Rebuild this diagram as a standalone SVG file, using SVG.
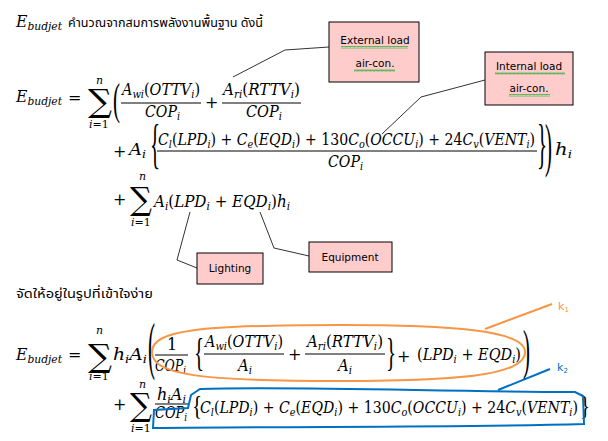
<svg xmlns="http://www.w3.org/2000/svg" width="608" height="441" viewBox="0 0 608 441">
<style>
.m{font-family:"DejaVu Serif","Liberation Serif",serif;font-style:italic;font-size:16px;fill:#000}
.u{font-style:normal}
.s{font-size:11px}
.big{font-family:"Liberation Serif","DejaVu Serif",serif;font-size:21px;font-style:normal;fill:#000}
.sig{font-family:"DejaVu Serif","Liberation Serif",serif;font-size:32px;font-style:normal;fill:#000}
.lim{font-family:"DejaVu Serif","Liberation Serif",serif;font-size:11px;font-style:italic;fill:#000}
.lab{font-family:"DejaVu Sans","Liberation Sans",sans-serif;font-size:10.5px;text-anchor:middle;fill:#000}
.th{font-family:"Noto Sans Thai","Tahoma","DejaVu Sans","Noto Sans",sans-serif;font-size:13px;fill:#000}
.bar{stroke:#000;stroke-width:1}
.box{fill:#FFCCCC;stroke:#000;stroke-width:1}
.con{fill:none;stroke:#333;stroke-width:1}
.sq{fill:url(#squig)}
</style>
<defs>
<pattern id="squig" width="4" height="3" patternUnits="userSpaceOnUse">
<path d="M0,2.5 L1,0.5 L2,2.5 L3,0.5 L4,2.5" fill="none" stroke="#3CB043" stroke-width="0.8"/>
</pattern>
</defs>
<rect width="608" height="441" fill="#fff"/>

<!-- header -->
<text class="m" x="16" y="27" textLength="46" lengthAdjust="spacingAndGlyphs">E<tspan class="s" dy="3">budjet</tspan></text>
<text class="th" x="68" y="27" textLength="195" lengthAdjust="spacingAndGlyphs">คำนวณจากสมการพลังงานพื้นฐาน ดังนี้</text>

<!-- Line A -->
<g id="formula1">
<text class="m" x="16" y="102" textLength="46" lengthAdjust="spacingAndGlyphs">E<tspan class="s" dy="3">budjet</tspan></text>
<text class="m u" x="68" y="103">=</text>
<text class="sig" x="88" y="112" textLength="24" lengthAdjust="spacingAndGlyphs">∑</text>
<text class="lim" x="96" y="84">n</text>
<text class="lim" x="89" y="128">i<tspan class="u">=1</tspan></text>
<text class="big" transform="translate(113,114) scale(1,2.1)">(</text>
<text class="m" x="122" y="95" textLength="78" lengthAdjust="spacingAndGlyphs">A<tspan class="s" dy="3">wi</tspan><tspan class="u" dy="-3">(</tspan>OTTV<tspan class="s" dy="3">i</tspan><tspan class="u" dy="-3">)</tspan></text>
<line class="bar" x1="121" y1="103" x2="201" y2="103"/>
<text class="m" x="145" y="117" textLength="35" lengthAdjust="spacingAndGlyphs">COP<tspan class="s" dy="3">i</tspan></text>
<text class="m u" x="205" y="108">+</text>
<text class="m" x="223" y="95" textLength="77" lengthAdjust="spacingAndGlyphs">A<tspan class="s" dy="3">ri</tspan><tspan class="u" dy="-3">(</tspan>RTTV<tspan class="s" dy="3">i</tspan><tspan class="u" dy="-3">)</tspan></text>
<line class="bar" x1="222" y1="103" x2="301" y2="103"/>
<text class="m" x="246" y="117" textLength="36" lengthAdjust="spacingAndGlyphs">COP<tspan class="s" dy="3">i</tspan></text>

<!-- Line B -->
<text class="m u" x="113" y="157">+</text>
<text class="m" x="129" y="155" textLength="17" lengthAdjust="spacingAndGlyphs">A<tspan class="s" dy="3">i</tspan></text>
<text class="big" transform="translate(150,162) scale(1,2.6)">{</text>
<text class="m" x="158" y="145" textLength="377" lengthAdjust="spacingAndGlyphs">C<tspan class="s" dy="3">l</tspan><tspan class="u" dy="-3">(</tspan>LPD<tspan class="s" dy="3">i</tspan><tspan class="u" dy="-3">) +  </tspan>C<tspan class="s" dy="3">e</tspan><tspan class="u" dy="-3">(</tspan>EQD<tspan class="s" dy="3">i</tspan><tspan class="u" dy="-3">) + 130</tspan>C<tspan class="s" dy="3">o</tspan><tspan class="u" dy="-3">(</tspan>OCCU<tspan class="s" dy="3">i</tspan><tspan class="u" dy="-3">) + 24</tspan>C<tspan class="s" dy="3">v</tspan><tspan class="u" dy="-3">(</tspan>VENT<tspan class="s" dy="3">i</tspan><tspan class="u" dy="-3">)</tspan></text>
<line class="bar" x1="157" y1="151" x2="537" y2="151"/>
<text class="m" x="328" y="167" textLength="35" lengthAdjust="spacingAndGlyphs">COP<tspan class="s" dy="3">i</tspan></text>
<text class="big" transform="translate(537,162) scale(1,2.6)">}</text>
<text class="big" transform="translate(545,165) scale(1,2.8)">)</text>
<text class="m" x="555" y="155" textLength="17" lengthAdjust="spacingAndGlyphs">h<tspan class="s" dy="3">i</tspan></text>

<!-- Line C -->
<text class="m u" x="113" y="205">+</text>
<text class="sig" x="130" y="210" textLength="22" lengthAdjust="spacingAndGlyphs">∑</text>
<text class="lim" x="139" y="180">n</text>
<text class="lim" x="131" y="226">i<tspan class="u">=1</tspan></text>
<text class="m" x="154" y="207" textLength="136" lengthAdjust="spacingAndGlyphs">A<tspan class="s" dy="3">i</tspan><tspan class="u" dy="-3">(</tspan>LPD<tspan class="s" dy="3">i</tspan><tspan class="u" dy="-3"> +  </tspan>EQD<tspan class="s" dy="3">i</tspan><tspan class="u" dy="-3">)</tspan>h<tspan class="s" dy="3">i</tspan></text>
</g>

<!-- connectors -->
<g id="connectors">
<polyline class="con" points="233,77 285,50 329,47"/>
<polyline class="con" points="485,80 421,97 382,134"/>
<polyline class="con" points="190,212 177,260 197,268"/>
<polyline class="con" points="260,212 274,248 309,256"/>
<path d="M485,329 L552,304" fill="none" stroke="#F79646" stroke-width="2"/>
<path d="M498,390 L550,369" fill="none" stroke="#0070C0" stroke-width="2"/>
</g>

<!-- callout boxes -->
<g id="external">
<rect class="box" x="329" y="22" width="90" height="60"/>
<text class="lab" x="375" y="44">External load</text>
<text class="lab" x="375" y="67">air-con.</text>
<rect class="sq" x="341" y="46" width="67" height="3"/>
<rect class="sq" x="354" y="69" width="41" height="3"/>
</g>
<g id="internal">
<rect class="box" x="485" y="52" width="88" height="53"/>
<text class="lab" x="529" y="70">Internal load</text>
<text class="lab" x="529" y="92">air-con.</text>
<rect class="sq" x="495" y="72" width="70" height="3"/>
<rect class="sq" x="509" y="94" width="41" height="3"/>
</g>
<g id="lighting">
<rect class="box" x="197" y="253" width="66" height="31"/>
<text class="lab" x="230" y="272">Lighting</text>
</g>
<g id="equipment">
<rect class="box" x="309" y="242" width="83" height="30"/>
<text class="lab" x="350" y="261">Equipment</text>
</g>

<text class="th" x="16" y="298" textLength="137" lengthAdjust="spacingAndGlyphs">จัดให้อยู่ในรูปที่เข้าใจง่าย</text>

<!-- Line D -->
<g id="formula2">
<text class="m" x="16" y="360" textLength="46" lengthAdjust="spacingAndGlyphs">E<tspan class="s" dy="3">budjet</tspan></text>
<text class="m u" x="68" y="360">=</text>
<text class="sig" x="88" y="367" textLength="24" lengthAdjust="spacingAndGlyphs">∑</text>
<text class="lim" x="96" y="334">n</text>
<text class="lim" x="89" y="380">i<tspan class="u">=1</tspan></text>
<text class="m" x="113" y="360" textLength="34" lengthAdjust="spacingAndGlyphs">h<tspan class="s" dy="3">i</tspan><tspan dy="-3">A</tspan><tspan class="s" dy="3">i</tspan></text>
<text class="big" transform="translate(148,367) scale(1,3.0)">(</text>
<text class="m u" x="167" y="350">1</text>
<line class="bar" x1="155" y1="355" x2="188" y2="355"/>
<text class="m" x="155" y="371" textLength="31" lengthAdjust="spacingAndGlyphs">COP<tspan class="s" dy="3">i</tspan></text>
<text class="big" transform="translate(194,366) scale(1,1.9)">{</text>
<text class="m" x="205" y="347" textLength="78" lengthAdjust="spacingAndGlyphs">A<tspan class="s" dy="3">wi</tspan><tspan class="u" dy="-3">(</tspan>OTTV<tspan class="s" dy="3">i</tspan><tspan class="u" dy="-3">)</tspan></text>
<line class="bar" x1="204" y1="354" x2="284" y2="354"/>
<text class="m" x="238" y="371" textLength="14" lengthAdjust="spacingAndGlyphs">A<tspan class="s" dy="3">i</tspan></text>
<text class="m u" x="288" y="360">+</text>
<text class="m" x="307" y="347" textLength="76" lengthAdjust="spacingAndGlyphs">A<tspan class="s" dy="3">ri</tspan><tspan class="u" dy="-3">(</tspan>RTTV<tspan class="s" dy="3">i</tspan><tspan class="u" dy="-3">)</tspan></text>
<line class="bar" x1="305" y1="354" x2="385" y2="354"/>
<text class="m" x="338" y="371" textLength="14" lengthAdjust="spacingAndGlyphs">A<tspan class="s" dy="3">i</tspan></text>
<text class="big" transform="translate(386,366) scale(1,1.9)">}</text>
<text class="m u" x="397" y="362">+</text>
<text class="m" x="417" y="360" textLength="104" lengthAdjust="spacingAndGlyphs"><tspan class="u">(</tspan>LPD<tspan class="s" dy="3">i</tspan><tspan class="u" dy="-3"> +  </tspan>EQD<tspan class="s" dy="3">i</tspan><tspan class="u" dy="-3">)</tspan></text>
<text class="big" transform="translate(523,368) scale(1,2.6)">)</text>

<!-- Line E -->
<text class="m u" x="113" y="410">+</text>
<text class="sig" x="130" y="416" textLength="22" lengthAdjust="spacingAndGlyphs">∑</text>
<text class="lim" x="139" y="388">n</text>
<text class="lim" x="131" y="432">i<tspan class="u">=1</tspan></text>
<text class="m" x="157" y="400" textLength="29" lengthAdjust="spacingAndGlyphs">h<tspan class="s" dy="3">i</tspan><tspan dy="-3">A</tspan><tspan class="s" dy="3">i</tspan></text>
<line class="bar" x1="155" y1="404" x2="188" y2="404"/>
<text class="m" x="155" y="418" textLength="32" lengthAdjust="spacingAndGlyphs">COP<tspan class="s" dy="3">i</tspan></text>
<text class="big" transform="translate(192,415) scale(1,1.3)">{</text>
<text class="m" x="200" y="413" textLength="378" lengthAdjust="spacingAndGlyphs">C<tspan class="s" dy="3">l</tspan><tspan class="u" dy="-3">(</tspan>LPD<tspan class="s" dy="3">i</tspan><tspan class="u" dy="-3">) +  </tspan>C<tspan class="s" dy="3">e</tspan><tspan class="u" dy="-3">(</tspan>EQD<tspan class="s" dy="3">i</tspan><tspan class="u" dy="-3">) + 130</tspan>C<tspan class="s" dy="3">o</tspan><tspan class="u" dy="-3">(</tspan>OCCU<tspan class="s" dy="3">i</tspan><tspan class="u" dy="-3">) + 24</tspan>C<tspan class="s" dy="3">v</tspan><tspan class="u" dy="-3">(</tspan>VENT<tspan class="s" dy="3">i</tspan><tspan class="u" dy="-3">)</tspan></text>
<text class="big" transform="translate(580,415) scale(1,1.3)">}</text>
</g>

<!-- highlight k1 / k2 -->
<g id="k1">
<path d="M152,352 C152,330 200,325 340,325 C450,325 525,330 525,352 C525,372 480,381 340,381 C200,381 152,375 152,352 Z" fill="none" stroke="#F79646" stroke-width="2"/>
<text x="558" y="310" font-family="DejaVu Sans, sans-serif" font-size="11" fill="#F79646">k<tspan font-size="7" dy="2">1</tspan></text>
</g>
<g id="k2">
<path d="M153,428 L154,410 L188,408 L191,395 L200,389 C300,386 450,392 575,392 L583,396 L584,424 C450,428 300,426 153,428 Z" fill="none" stroke="#0070C0" stroke-width="2"/>
<text x="557" y="371" font-family="DejaVu Sans, sans-serif" font-size="11" fill="#0070C0">k<tspan font-size="7" dy="2">2</tspan></text>
</g>
</svg>
